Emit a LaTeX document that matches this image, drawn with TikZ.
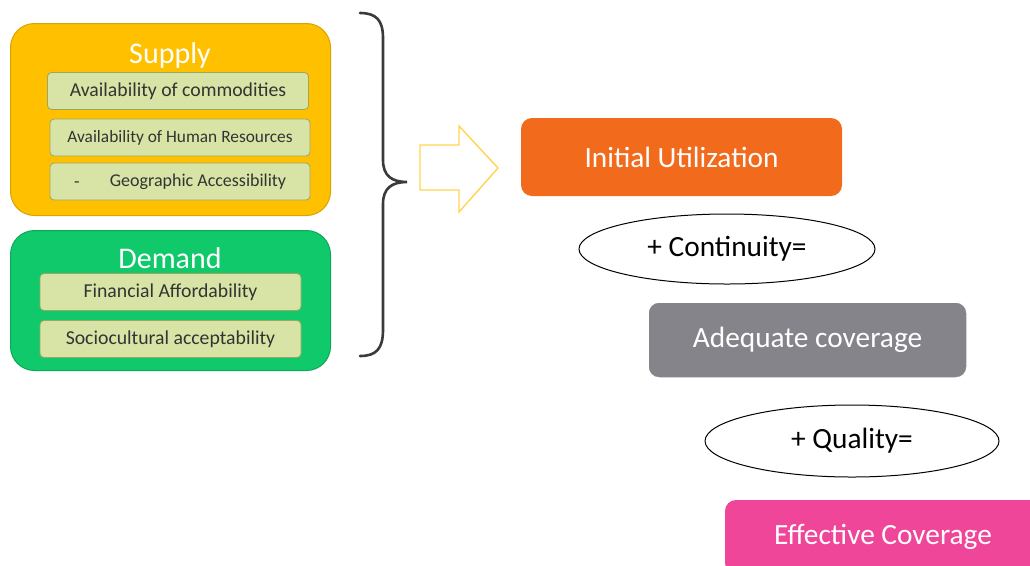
\documentclass[tikz,border=0pt]{standalone}
\usepackage{fontspec}
\setmainfont{Carlito}
\usetikzlibrary{shapes.geometric}
\definecolor{supplyc}{HTML}{FFC000}
\definecolor{supplyb}{HTML}{D9A300}
\definecolor{demandc}{HTML}{10C96B}
\definecolor{demandb}{HTML}{0DA85A}
\definecolor{itemc}{HTML}{D8E4A6}
\definecolor{itemb}{HTML}{9DA564}
\definecolor{orangec}{HTML}{F26A1C}
\definecolor{grayc}{HTML}{85848A}
\definecolor{pinkc}{HTML}{EF4699}
\definecolor{bracec}{HTML}{3A3A3A}
\definecolor{arrowc}{HTML}{FFD54F}
\definecolor{textc}{HTML}{333333}
\newlength{\pxu}
\setlength{\pxu}{0.75pt}
\tikzset{
  panel/.style={rounded corners=24\pxu, line width=1\pxu, inner sep=0pt, anchor=north west},
  item/.style={draw=itemb, fill=itemc, rounded corners=4\pxu, line width=0.8\pxu, inner sep=0pt,
    minimum height=37\pxu, text=textc},
  bigbox/.style={rounded corners=11\pxu, inner sep=0pt, text=white, font=\fontsize{22}{26}\selectfont},
  oval/.style={ellipse, draw=black, line width=1\pxu, inner sep=0pt, font=\fontsize{22}{26}\selectfont},
  titletext/.style={text=white, inner sep=0pt, font=\fontsize{22.5}{26}\selectfont},
  plain/.style={inner sep=0pt},
}
\begin{document}
\begin{tikzpicture}[x=0.75pt,y=-0.75pt]
\useasboundingbox (0,0) rectangle (1030,565);
\clip (0,0) rectangle (1030,565);
% Supply panel
\node[panel, draw=supplyb, fill=supplyc, minimum width=320\pxu, minimum height=192\pxu] (supply) at (10,23) {};
\node[titletext] (supplyt) at (170,55) {Supply};
\node[item, minimum width=261\pxu, font=\fontsize{14.8}{17}\selectfont] (s1) at (178,91) {Availability of commodities};
\node[item, minimum width=260\pxu, font=\fontsize{13}{15}\selectfont] (s2) at (180,137.5) {Availability of Human Resources};
\node[item, minimum width=260\pxu] (s3) at (180,181.5) {};
\node[plain, text=textc, font=\fontsize{13.5}{15}\selectfont] (s3dash) at (77,185) {-};
\node[plain, text=textc, font=\fontsize{13.5}{15}\selectfont] (s3t) at (198,181.5) {Geographic Accessibility};
% Demand panel
\node[panel, draw=demandb, fill=demandc, minimum width=320\pxu, minimum height=140\pxu] (demand) at (10,230) {};
\node[titletext] (demandt) at (170,258) {Demand};
\node[item, minimum width=261\pxu, font=\fontsize{14.8}{17}\selectfont] (d1) at (170.5,292) {Financial Affordability};
\node[item, minimum width=261\pxu, font=\fontsize{14.8}{17}\selectfont] (d2) at (170.5,339) {Sociocultural acceptability};
% Brace
\draw[bracec, line width=2.6\pxu, line cap=round]
  (360,13) .. controls (376,13) and (383,20) .. (383,38)
  -- (383,160) .. controls (383,176) and (392,182) .. (407,182)
  .. controls (392,182) and (383,188) .. (383,204)
  -- (383,330) .. controls (383,349) and (376,356) .. (360,356);
% Block arrow
\draw[arrowc, fill=white, line width=1.4\pxu, line join=miter]
  (420,145) -- (459,145) -- (459,126) -- (498,168) -- (459,212) -- (459,190) -- (420,190) -- cycle;
% Right side
\node[bigbox, fill=orangec, minimum width=321\pxu, minimum height=78\pxu] (init) at (681.5,157) {Initial Utilization};
\node[oval, minimum width=296\pxu, minimum height=70\pxu] (cont) at (727,249) {+ Continuity=};
\node[bigbox, fill=grayc, draw=white, line width=1.5\pxu, minimum width=319\pxu, minimum height=76\pxu] (adeq) at (807.5,340) {Adequate coverage};
\node[oval, minimum width=294\pxu, minimum height=72\pxu] (qual) at (852,441) {+ Quality=};
\node[bigbox, fill=pinkc, minimum width=320\pxu, minimum height=74\pxu] (eff) at (885,537) {};
\node[plain, text=white, font=\fontsize{22}{26}\selectfont] (efft) at (883,537) {Effective Coverage};
\end{tikzpicture}
\end{document}
